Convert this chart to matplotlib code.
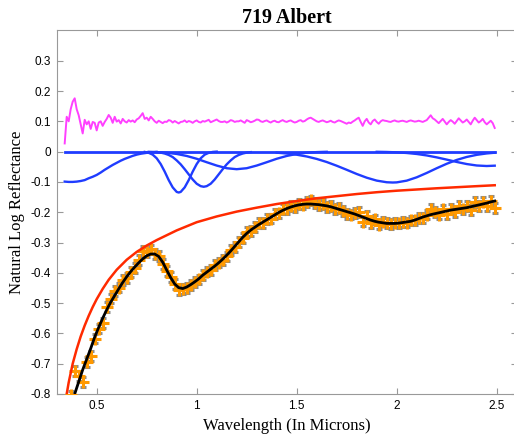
import numpy as np
from matplotlib import pyplot as plt

plt.rcParams['axes.unicode_minus'] = False

# residual (offset by +0.1), sampled every 0.01 micron from 0.34 to 2.49
resid_wl = np.linspace(0.34, 2.49, 216)
resid = [0.027, 0.115, 0.100, 0.140, 0.165, 0.176, 0.140, 0.120, 0.090, 0.060,
         0.105, 0.090, 0.100, 0.075, 0.098, 0.095, 0.070, 0.096, 0.100, 0.085,
         0.098, 0.108, 0.121, 0.112, 0.095, 0.115, 0.099, 0.104, 0.093, 0.108,
         0.100, 0.096, 0.104, 0.099, 0.103, 0.097, 0.106, 0.110, 0.118, 0.127,
         0.108, 0.112, 0.103, 0.115, 0.108, 0.100, 0.095, 0.102, 0.098, 0.094,
         0.099, 0.098, 0.104, 0.102, 0.096, 0.101, 0.097, 0.093, 0.098, 0.099,
         0.103, 0.097, 0.101, 0.099, 0.095, 0.100, 0.103, 0.098, 0.096, 0.101,
         0.099, 0.102, 0.105, 0.097, 0.100, 0.103, 0.106, 0.101, 0.098, 0.098,
         0.100, 0.096, 0.099, 0.104, 0.102, 0.098, 0.100, 0.100, 0.103, 0.099,
         0.095, 0.104, 0.101, 0.097, 0.099, 0.102, 0.106, 0.105, 0.100, 0.098,
         0.101, 0.103, 0.099, 0.096, 0.100, 0.102, 0.098, 0.097, 0.101, 0.104,
         0.100, 0.098, 0.101, 0.103, 0.099, 0.096, 0.098, 0.102, 0.104, 0.099,
         0.101, 0.106, 0.110, 0.112, 0.108, 0.104, 0.100, 0.098, 0.101, 0.103,
         0.100, 0.097, 0.099, 0.102, 0.098, 0.096, 0.100, 0.103, 0.101, 0.098,
         0.095, 0.092, 0.096, 0.094, 0.099, 0.103, 0.108, 0.112, 0.098, 0.085,
         0.100, 0.108, 0.096, 0.090, 0.101, 0.106, 0.098, 0.092, 0.100, 0.104,
         0.102, 0.101, 0.099, 0.098, 0.101, 0.103, 0.100, 0.099, 0.101, 0.102,
         0.100, 0.098, 0.101, 0.103, 0.101, 0.099, 0.100, 0.102, 0.100, 0.098,
         0.101, 0.104, 0.112, 0.120, 0.110, 0.106, 0.100, 0.094, 0.101, 0.108,
         0.099, 0.090, 0.098, 0.104, 0.099, 0.092, 0.101, 0.110, 0.103, 0.096,
         0.100, 0.106, 0.098, 0.090, 0.102, 0.112, 0.104, 0.096, 0.101, 0.108,
         0.097, 0.090, 0.096, 0.102, 0.094, 0.078]

# measured spectrum and MGM fit, every 0.02 micron from 0.35 to 2.49
wl = np.linspace(0.35, 2.49, 108)
spectrum = [-0.875, -0.805, -0.724, -0.740, -0.760, -0.695, -0.675, -0.617, -0.584, -0.565,
            -0.514, -0.485, -0.460, -0.449, -0.424, -0.417, -0.397, -0.384, -0.357, -0.327,
            -0.332, -0.323, -0.338, -0.344, -0.371, -0.393, -0.414, -0.436, -0.456, -0.453,
            -0.450, -0.440, -0.430, -0.422, -0.407, -0.396, -0.391, -0.375, -0.366, -0.357,
            -0.346, -0.324, -0.315, -0.298, -0.284, -0.266, -0.262, -0.248, -0.236, -0.235,
            -0.222, -0.221, -0.207, -0.204, -0.190, -0.190, -0.180, -0.183, -0.174, -0.175,
            -0.167, -0.161, -0.170, -0.177, -0.174, -0.182, -0.180, -0.190, -0.187, -0.196,
            -0.206, -0.208, -0.203, -0.199, -0.231, -0.213, -0.236, -0.224, -0.241, -0.231,
            -0.236, -0.239, -0.234, -0.237, -0.232, -0.234, -0.227, -0.227, -0.219, -0.218,
            -0.208, -0.188, -0.199, -0.208, -0.191, -0.206, -0.189, -0.199, -0.179, -0.191,
            -0.179, -0.192, -0.167, -0.180, -0.165, -0.180, -0.164, -0.185]
spec_err = 0.016
fit = [-0.890, -0.845, -0.800, -0.760, -0.720, -0.685, -0.650, -0.612, -0.580, -0.550,
       -0.522, -0.497, -0.475, -0.453, -0.432, -0.413, -0.396, -0.381, -0.367, -0.354,
       -0.344, -0.338, -0.338, -0.346, -0.365, -0.391, -0.416, -0.437, -0.449, -0.452,
       -0.447, -0.439, -0.430, -0.420, -0.408, -0.398, -0.388, -0.378, -0.367, -0.355,
       -0.342, -0.328, -0.313, -0.298, -0.283, -0.270, -0.259, -0.250, -0.241, -0.233,
       -0.225, -0.217, -0.209, -0.201, -0.194, -0.188, -0.183, -0.179, -0.176, -0.174,
       -0.173, -0.173, -0.174, -0.175, -0.177, -0.179, -0.182, -0.186, -0.190, -0.194,
       -0.198, -0.202, -0.206, -0.211, -0.216, -0.221, -0.226, -0.230, -0.233, -0.235,
       -0.237, -0.237, -0.237, -0.236, -0.234, -0.232, -0.230, -0.226, -0.221, -0.216,
       -0.212, -0.208, -0.205, -0.202, -0.199, -0.196, -0.193, -0.191, -0.189, -0.187,
       -0.185, -0.182, -0.179, -0.176, -0.173, -0.170, -0.166, -0.163]

# continuum
cont_wl = [0.34, 0.35, 0.36, 0.38, 0.40, 0.42, 0.44, 0.46, 0.48, 0.50, 0.53, 0.56, 0.60,
           0.65, 0.70, 0.75, 0.80, 0.90, 1.00, 1.10, 1.20, 1.30, 1.40, 1.50, 1.60, 1.70,
           1.80, 1.90, 2.00, 2.20, 2.40, 2.49]
cont = [-0.845, -0.800, -0.762, -0.700, -0.652, -0.610, -0.574, -0.542, -0.513, -0.487,
        -0.453, -0.423, -0.390, -0.357, -0.331, -0.310, -0.292, -0.260, -0.233, -0.214,
        -0.198, -0.185, -0.173, -0.163, -0.154, -0.147, -0.140, -0.134, -0.129, -0.121,
        -0.114, -0.111]

# individual gaussian bands
band1_wl = [0.34, 0.36, 0.38, 0.40, 0.42, 0.44, 0.46, 0.48, 0.50, 0.52, 0.54, 0.56, 0.58,
            0.60, 0.62, 0.64, 0.66, 0.68, 0.70, 0.72, 0.74, 0.76, 0.78, 0.80]
band1 = [-0.099, -0.100, -0.100, -0.099, -0.097, -0.094, -0.088, -0.083, -0.077, -0.069,
         -0.060, -0.052, -0.044, -0.037, -0.030, -0.024, -0.019, -0.014, -0.010, -0.007,
         -0.005, -0.003, -0.002, -0.001]
band2_wl = [0.74, 0.76, 0.78, 0.80, 0.82, 0.84, 0.86, 0.88, 0.90, 0.91, 0.92, 0.94, 0.96,
            0.98, 1.00, 1.02, 1.04, 1.06, 1.08, 1.10]
band2 = [-0.001, -0.004, -0.010, -0.022, -0.041, -0.066, -0.094, -0.118, -0.133, -0.135,
         -0.133, -0.118, -0.094, -0.066, -0.041, -0.022, -0.010, -0.004, -0.001, 0.0]
band3_wl = [0.80, 0.82, 0.84, 0.86, 0.88, 0.90, 0.92, 0.94, 0.96, 0.98, 1.00, 1.02, 1.035,
            1.05, 1.07, 1.09, 1.11, 1.13, 1.15, 1.17, 1.19, 1.21, 1.23, 1.25, 1.27]
band3 = [-0.0017, -0.0033, -0.0063, -0.011, -0.018, -0.029, -0.042, -0.058, -0.075, -0.092,
         -0.106, -0.114, -0.116, -0.114, -0.106, -0.092, -0.075, -0.058, -0.042, -0.029,
         -0.018, -0.011, -0.0063, -0.0033, -0.0017]
band4_wl = [0.76, 0.80, 0.85, 0.90, 0.95, 1.00, 1.05, 1.10, 1.15, 1.20, 1.25, 1.30, 1.35,
            1.40, 1.45, 1.50, 1.55, 1.60, 1.65]
band4 = [-0.0007, -0.0016, -0.0037, -0.0077, -0.0143, -0.0236, -0.035, -0.046, -0.0548,
         -0.058, -0.0548, -0.046, -0.035, -0.0236, -0.0143, -0.0077, -0.0037, -0.0016, -0.0006]
band5_wl = [1.40, 1.45, 1.50, 1.55, 1.60, 1.65, 1.70, 1.75, 1.80, 1.85, 1.90, 1.95, 1.98,
            2.00, 2.05, 2.10, 2.15, 2.20, 2.25, 2.30, 2.35, 2.40, 2.45, 2.49]
band5 = [-0.0035, -0.0061, -0.0102, -0.016, -0.0241, -0.0343, -0.0466, -0.060, -0.0738,
         -0.0861, -0.0957, -0.1011, -0.102, -0.1015, -0.0958, -0.0848, -0.0704, -0.0548,
         -0.0401, -0.0274, -0.0176, -0.0106, -0.006, -0.0036]
band6_wl = [1.90, 1.95, 2.00, 2.05, 2.10, 2.15, 2.20, 2.25, 2.30, 2.35, 2.40, 2.45, 2.49]
band6 = [-0.0006, -0.0012, -0.0024, -0.0045, -0.0078, -0.0126, -0.019, -0.0264, -0.0341,
         -0.041, -0.0458, -0.0475, -0.0464]
zero_wl = [0.34, 2.49]
zero = [0.0, 0.0]

blue = '#1f3cff'
fig = plt.figure(figsize=(5.14, 4.38), dpi=100)
ax = fig.add_axes([0.1103, 0.1005, 0.895, 0.830])

ax.plot(zero_wl, zero, color=blue, lw=2, zorder=2)
for bw, b in [(band1_wl, band1), (band2_wl, band2), (band3_wl, band3),
              (band4_wl, band4), (band5_wl, band5), (band6_wl, band6)]:
    ax.plot(bw, b, color=blue, lw=1.7, zorder=2)
ax.plot(resid_wl, resid, color='#ff40ff', lw=1.4, zorder=2)
ax.errorbar(wl, spectrum, yerr=spec_err, fmt='+', color='#ff9900', ms=8, mew=2.2,
            ecolor='#8c8c8c', elinewidth=0.7, capsize=2.5, capthick=0.8, zorder=3)
ax.plot(cont_wl, cont, color='#ff2a00', lw=1.8, zorder=4)
ax.plot(wl, fit, color='black', lw=2, zorder=5)

ax.set_xlim(0.3, 2.6)
ax.set_ylim(-0.8, 0.4)
ax.set_xticks([0.5, 1, 1.5, 2, 2.5])
ax.set_xticklabels(['0.5', '1', '1.5', '2', '2.5'])
yt = [-0.8, -0.7, -0.6, -0.5, -0.4, -0.3, -0.2, -0.1, 0, 0.1, 0.2, 0.3]
ax.set_yticks(yt)
ax.set_yticklabels(['%g' % v for v in yt])
ax.tick_params(direction='in', top=True, right=True, length=4, width=0.8,
               color='#999999', labelsize=8.5, pad=4)
for lab in ax.get_xticklabels() + ax.get_yticklabels():
    lab.set_fontfamily('Liberation Sans')
for s in ax.spines.values():
    s.set_color('#999999')
    s.set_linewidth(0.8)

ax.set_title('719 Albert', fontfamily='Liberation Serif', fontweight='bold', fontsize=14.5, pad=5)
ax.set_xlabel('Wavelength (In Microns)', fontfamily='Liberation Serif', fontsize=12, labelpad=5)
ax.set_ylabel('Natural Log Reflectance', fontfamily='Liberation Serif', fontsize=12, labelpad=4)

plt.savefig('out.png')
plt.close()
